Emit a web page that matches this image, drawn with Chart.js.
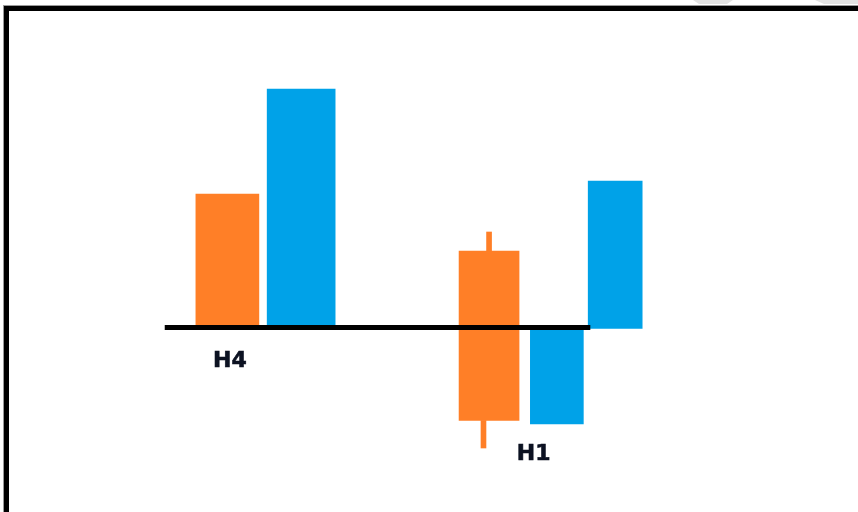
<!DOCTYPE html>
<html lang="en">
<head>
    <meta charset="UTF-8">
    <title>H4 / H1</title>
    <script src="https://cdn.jsdelivr.net/npm/chart.js"></script>
    <style>
        body {
            margin: 0;
            background: #fff;
            overflow: hidden;
        }
        .frame {
            position: absolute;
            left: 4px;
            top: 6px;
            width: 900px;
            height: 600px;
            border-left: 5px solid #000;
            border-top: 5px solid #000;
            box-shadow: -1px -1px 0 #9a9a9a;
        }
        .tab {
            position: absolute;
            top: 0;
            height: 4px;
            background: #e2e2e2;
            clip-path: polygon(0 0, 100% 0, 85% 100%, 15% 100%);
        }
        #wrap {
            position: absolute;
            left: 0;
            top: 0;
            width: 858px;
            height: 512px;
        }
    </style>
</head>
<body>
    <div class="tab" style="left:693px;width:40px"></div>
    <div class="tab" style="left:815px;width:60px"></div>
    <div class="frame"></div>
    <div id="wrap"><canvas id="chart" width="858" height="512"></canvas></div>

    <script>
        // positions along the time axis (0..100) and price ranges (baseline = 0)
        const h4Orange = [{ x: 26.5, y: [0, 53.4] }];
        const h4Blue = [{ x: 35.1, y: [0, 95.4] }];
        const h1Body = [{ x: 57.0, y: [-37.2, 30.6] }];
        const h1Wicks = [
            { x: 57.0, y: [30.6, 38.2] },
            { x: 56.35, y: [-48.2, -37.2] }
        ];
        const h1BlueDown = [{ x: 64.9, y: [-38.6, -0.8] }];
        const h1BlueUp = [{ x: 71.7, y: [-0.4, 58.6] }];
        const baseline = [{ x: 19.2, y: 0 }, { x: 68.8, y: 0 }];

        const labelText = ['H4', 'H1'];
        const labelX = [26.8, 62.2];
        const labelY = [-15.8, -53];

        const orange = '#FF7F27';
        const blue = '#00A2E8';

        const labelPlugin = {
            id: 'groupLabels',
            afterDatasetsDraw(chart) {
                const ctx = chart.ctx;
                const xs = chart.scales.x;
                const ys = chart.scales.y;
                ctx.save();
                ctx.font = 'bold 22px "DejaVu Sans", Verdana, sans-serif';
                ctx.fillStyle = '#0c1222';
                ctx.strokeStyle = '#0c1222';
                ctx.lineWidth = 0.6;
                ctx.textAlign = 'center';
                ctx.textBaseline = 'alphabetic';
                labelText.forEach((t, i) => {
                    const px = xs.getPixelForValue(labelX[i]);
                    const py = ys.getPixelForValue(labelY[i]);
                    ctx.fillText(t, px, py);
                    ctx.strokeText(t, px, py);
                });
                ctx.restore();
            }
        };

        function barSet(data, color, thickness) {
            return {
                type: 'bar',
                data: data,
                backgroundColor: color,
                borderWidth: 0,
                barThickness: thickness,
                grouped: false,
                order: 1
            };
        }

        new Chart(document.getElementById('chart'), {
            type: 'bar',
            data: {
                datasets: [
                    {
                        type: 'line',
                        data: baseline,
                        borderColor: '#000',
                        borderWidth: 5,
                        pointRadius: 0,
                        order: 0
                    },
                    barSet(h4Orange, orange, 63),
                    barSet(h4Blue, blue, 68),
                    barSet(h1Wicks, orange, 5),
                    barSet(h1Body, orange, 60),
                    barSet(h1BlueDown, blue, 53),
                    barSet(h1BlueUp, blue, 54)
                ]
            },
            options: {
                responsive: false,
                animation: false,
                layout: { padding: 0 },
                plugins: {
                    legend: { display: false },
                    tooltip: { enabled: false }
                },
                scales: {
                    x: {
                        type: 'linear',
                        min: 0,
                        max: 100,
                        offset: false,
                        display: false
                    },
                    y: {
                        min: -73.8,
                        max: 131,
                        display: false
                    }
                }
            },
            plugins: [labelPlugin]
        });
    </script>
</body>
</html>
